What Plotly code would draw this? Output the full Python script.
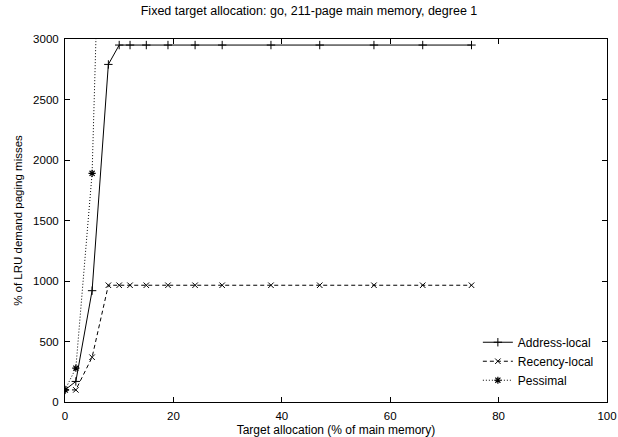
import plotly.graph_objects as go

# Data
x_addr = [0, 2, 5, 8, 10, 12, 15, 19, 24, 29, 38, 47, 57, 66, 75]
y_addr = [100, 170, 920, 2790, 2950, 2950, 2950, 2950, 2950, 2950, 2950, 2950, 2950, 2950, 2950]

x_rec = [0, 2, 5, 8, 10, 12, 15, 19, 24, 29, 38, 47, 57, 66, 75]
y_rec = [100, 100, 370, 965, 965, 965, 965, 965, 965, 965, 965, 965, 965, 965, 965]

x_pess = [0, 2, 5, 8]
y_pess = [100, 280, 1890, 6600]

FONT = "Liberation Sans, Arial, Helvetica, sans-serif"

fig = go.Figure()
fig.add_trace(go.Scatter(
    x=x_addr, y=y_addr, name="Address-local", mode="lines+markers",
    line=dict(color="black", width=1, dash="solid"),
    marker=dict(symbol="cross-thin-open", size=6, color="black", line=dict(width=1, color="black")),
    cliponaxis=True))
fig.add_trace(go.Scatter(
    x=x_rec, y=y_rec, name="Recency-local", mode="lines+markers",
    line=dict(color="black", width=1, dash="4px,3px"),
    marker=dict(symbol="x-thin-open", size=5.5, color="black", line=dict(width=1, color="black")),
    cliponaxis=True))
fig.add_trace(go.Scatter(
    x=x_pess, y=y_pess, name="Pessimal", mode="lines+markers",
    line=dict(color="black", width=1, dash="1px,2px"),
    marker=dict(symbol="asterisk-open", size=6, color="black", line=dict(width=1.2, color="black")),
    cliponaxis=True))

fig.update_layout(
    width=618, height=437,
    margin=dict(l=65, r=11, t=39, b=35),
    paper_bgcolor="white", plot_bgcolor="white",
    font=dict(family=FONT, size=11, color="black"),
    title=dict(text="Fixed target allocation: go, 211-page main memory, degree 1",
               x=0.5, xanchor="center", y=0.985, yanchor="top",
               font=dict(family=FONT, size=12.5, color="black")),
    showlegend=True,
    legend=dict(x=0.985, y=0.02, xanchor="right", yanchor="bottom",
                bgcolor="rgba(0,0,0,0)", borderwidth=0,
                font=dict(family=FONT, size=12, color="black"),
                tracegroupgap=0, itemwidth=30),
)
fig.update_xaxes(
    range=[0, 100], tickvals=[0, 20, 40, 60, 80, 100],
    showgrid=False, zeroline=False, automargin=False,
    showline=True, linecolor="black", linewidth=1, mirror="ticks",
    ticks="inside", ticklen=5, tickcolor="black", ticklabelstandoff=3,
    title=dict(text="Target allocation (% of main memory)", standoff=6,
               font=dict(family=FONT, size=12, color="black")),
    tickfont=dict(family=FONT, size=11.5, color="black"))
fig.update_yaxes(
    range=[0, 3000], tickvals=[0, 500, 1000, 1500, 2000, 2500, 3000],
    showgrid=False, zeroline=False, automargin=False,
    showline=True, linecolor="black", linewidth=1, mirror="ticks",
    ticks="inside", ticklen=5, tickcolor="black", ticklabelstandoff=3,
    title=dict(text="% of LRU demand paging misses", standoff=8,
               font=dict(family=FONT, size=11.5, color="black")),
    tickfont=dict(family=FONT, size=11.5, color="black"))

fig.write_html("out.html")
